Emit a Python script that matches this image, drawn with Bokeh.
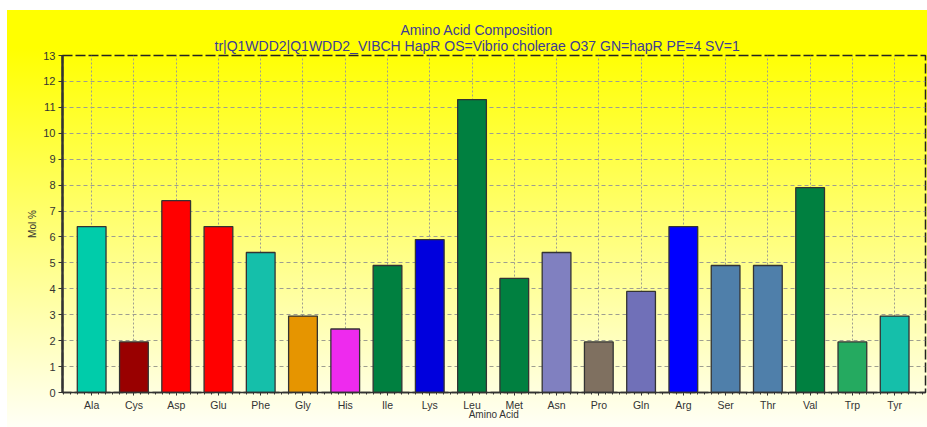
from bokeh.plotting import figure
from bokeh.models import ColumnDataSource, Range1d, FixedTicker, Title
from bokeh.embed import file_html
from bokeh.resources import INLINE

# ---- data ----
amino_acids = ["Ala", "Cys", "Asp", "Glu", "Phe", "Gly", "His", "Ile", "Lys", "Leu",
               "Met", "Asn", "Pro", "Gln", "Arg", "Ser", "Thr", "Val", "Trp", "Tyr"]
mol_percent = [6.4, 1.95, 7.4, 6.4, 5.4, 2.95, 2.45, 4.9, 5.9, 11.3,
               4.4, 5.4, 1.95, 3.9, 6.4, 4.9, 4.9, 7.9, 1.95, 2.95]
bar_colors = ["#00CCAA", "#990000", "#FF0000", "#FF0000", "#15BFAA", "#E69500", "#EE2AEE",
              "#008040", "#0000DD", "#008040", "#008040", "#8080C0", "#7F7060", "#7070B8",
              "#0000FF", "#4F7FAA", "#4F7FAA", "#008040", "#25AA60", "#15BFAA"]
y_ticks = list(range(0, 14))
title_text = "Amino Acid Composition"
subtitle_text = "tr|Q1WDD2|Q1WDD2_VIBCH HapR OS=Vibrio cholerae O37 GN=hapR PE=4 SV=1"

positions = list(range(1, len(amino_acids) + 1))
src = ColumnDataSource(dict(x=positions, mol=mol_percent, color=bar_colors, name=amino_acids))

FONT = "Liberation Sans"
TITLE_COLOR = "#3C3C96"

p = figure(width=920, height=417, output_backend="svg", toolbar_location=None,
           x_range=Range1d(0.31, 20.73), y_range=Range1d(0, 13),
           min_border_left=55, min_border_right=2, min_border_top=45, min_border_bottom=35,
           background_fill_color=None, border_fill_color=None,
           margin=(10, 0, 0, 7),
           styles={"background": "linear-gradient(to bottom, #FFFF00 0%, #FFFF00 9%, #FFFFF6 100%)"})

p.title.text = title_text
p.title.align = "left"
p.title.offset = 338
p.title.text_font = FONT
p.title.text_font_size = "14px"
p.title.text_font_style = "normal"
p.title.text_color = TITLE_COLOR
p.title.standoff = -6

sub = Title(text=subtitle_text, align="left", offset=152, text_font=FONT,
            text_font_size="14px", text_font_style="normal", text_color=TITLE_COLOR,
            standoff=3)
p.add_layout(sub, "above")

p.vbar(x="x", top="mol", width=0.68, bottom=0, fill_color="color",
       line_color="#333333", line_width=1.3, source=src)

# axes
p.xaxis.ticker = FixedTicker(ticks=positions,
                             minor_ticks=[i / 6 for i in range(1, 6 * 21)])
p.xaxis.major_label_overrides = {i: n for i, n in zip(positions, amino_acids)}
p.yaxis.ticker = FixedTicker(ticks=y_ticks)
p.xaxis.axis_label = "Amino Acid"
p.yaxis.axis_label = "Mol %"

for ax in (p.xaxis, p.yaxis):
    ax.axis_label_text_font = FONT
    ax.axis_label_text_font_size = "10px"
    ax.axis_label_text_font_style = "normal"
    ax.axis_label_text_color = "#333333"
    ax.major_label_text_font = FONT
    ax.major_label_text_font_size = "11px"
    ax.major_label_text_color = "#333333"
    ax.axis_line_color = "#333333"
    ax.major_tick_line_color = "#333333"
    ax.minor_tick_line_color = "#333333"
    ax.major_tick_in = 0
    ax.minor_tick_in = 0
    ax.major_tick_out = 4
    ax.minor_tick_out = 2
    ax.major_label_standoff = 3
    ax.axis_label_standoff = 2

p.yaxis.axis_line_width = 2.5
p.xaxis.axis_line_width = 1.5
p.yaxis.minor_tick_line_color = None
p.xaxis.major_tick_out = 3
p.xaxis.major_label_standoff = 3
p.xaxis.major_label_text_font_size = "10.5px"
p.xaxis.axis_label_standoff = -5

# grid
p.xgrid.grid_line_color = "#9E9E90"
p.xgrid.grid_line_dash = "2 2"
p.ygrid.grid_line_color = "#9E9E90"
p.ygrid.grid_line_dash = "4 3"

# outline
p.outline_line_color = "#222222"
p.outline_line_dash = "10 3"
p.outline_line_width = 1.5

open("out.html", "w").write(file_html(p, INLINE))
